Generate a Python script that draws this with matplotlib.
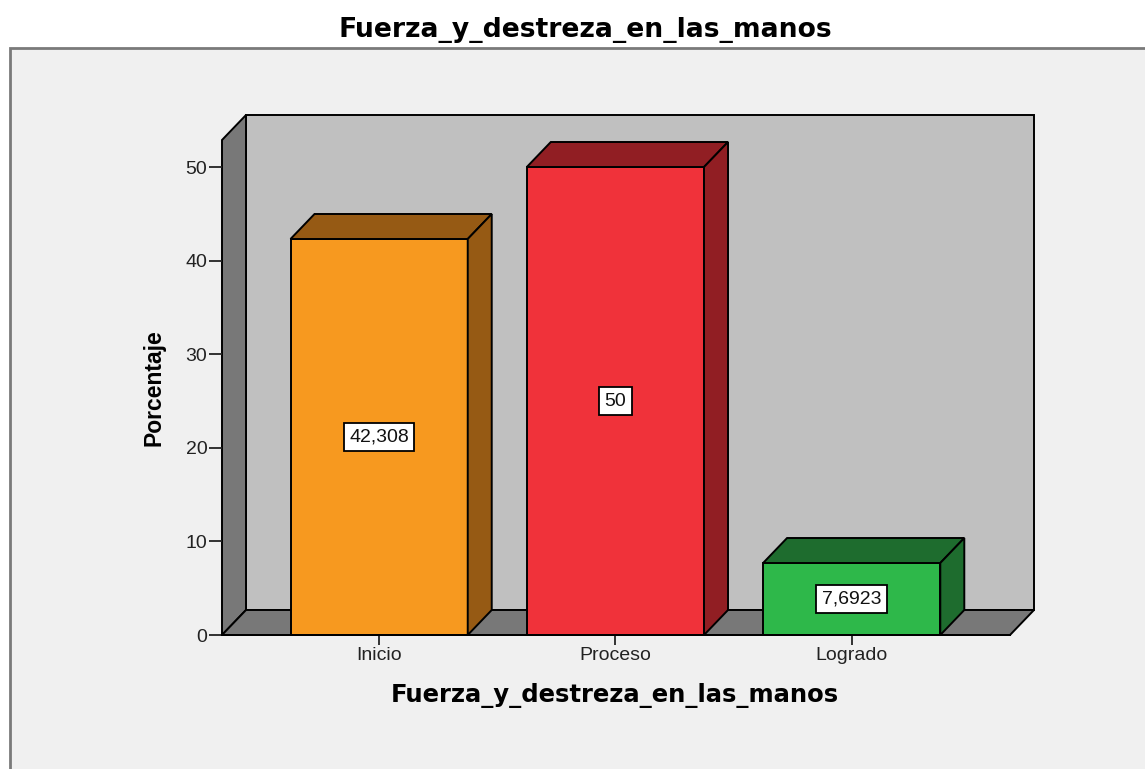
import matplotlib
matplotlib.use("Agg")
import matplotlib.pyplot as plt
from matplotlib.patches import Polygon, Rectangle

# ---- data ----
categories = ["Inicio", "Proceso", "Logrado"]
values = [42.308, 50.0, 7.6923]
value_labels = ["42,308", "50", "7,6923"]
y_ticks = [0, 10, 20, 30, 40, 50]
title = "Fuerza_y_destreza_en_las_manos"
xlabel = "Fuerza_y_destreza_en_las_manos"
ylabel = "Porcentaje"

front_colors = ["#F7991F", "#F0323A", "#2EB84A"]
dark_colors = ["#965A14", "#911E23", "#1E6C2E"]

W, H = 1145, 769
fig = plt.figure(figsize=(W / 100, H / 100), dpi=100, facecolor="white")

# outer frame (SPSS chart area)
fig.patches.append(Rectangle((10 / W, -0.05), 1.1, 1 - 48 / H + 0.05,
                             transform=fig.transFigure, facecolor="#F0F0F0",
                             edgecolor="#7A7A7A", linewidth=2, zorder=-10))

# axes covering the front plane
left_px, right_px, bottom_px, top_px = 222, 1010, 635, 115
ax = fig.add_axes([left_px / W, 1 - bottom_px / H,
                   (right_px - left_px) / W, (bottom_px - top_px) / H])
ax.set_zorder(5)
ax.set_facecolor("none")
x0, x1 = -0.665, 2.67
px_per_unit_y = 9.36
ymax = (bottom_px - top_px) / px_per_unit_y
ax.set_xlim(x0, x1)
ax.set_ylim(0, ymax)
px_per_unit_x = (right_px - left_px) / (x1 - x0)
dx = 24 / px_per_unit_x
dy = 25 / px_per_unit_y
wall_top = ymax - dy

for s in ax.spines.values():
    s.set_visible(False)

lw = 1.4
# back wall
ax.add_patch(Polygon([(x0 + dx, dy), (x1 + dx, dy), (x1 + dx, ymax), (x0 + dx, ymax)],
                     closed=True, facecolor="#C0C0C0", edgecolor="black", lw=lw,
                     zorder=1, clip_on=False))
# left wall
ax.add_patch(Polygon([(x0, 0), (x0 + dx, dy), (x0 + dx, ymax), (x0, wall_top)],
                     closed=True, facecolor="#787878", edgecolor="black", lw=lw,
                     zorder=1, clip_on=False))
# floor
ax.add_patch(Polygon([(x0, 0), (x1, 0), (x1 + dx, dy), (x0 + dx, dy)],
                     closed=True, facecolor="#787878", edgecolor="black", lw=lw,
                     zorder=1, clip_on=False))

bw = 0.75
xs = list(range(len(categories)))
bars = ax.bar(xs, values, width=bw, color=front_colors, edgecolor="black",
              linewidth=lw, zorder=3, clip_on=False)
for x, v, dc, lab in zip(xs, values, dark_colors, value_labels):
    l, r = x - bw / 2, x + bw / 2
    ax.add_patch(Polygon([(l, v), (r, v), (r + dx, v + dy), (l + dx, v + dy)],
                         closed=True, facecolor=dc, edgecolor="black", lw=lw,
                         zorder=3, clip_on=False))
    ax.add_patch(Polygon([(r, 0), (r + dx, dy), (r + dx, v + dy), (r, v)],
                         closed=True, facecolor=dc, edgecolor="black", lw=lw,
                         zorder=3, clip_on=False))
    ax.text(x, v / 2, lab, ha="center", va="center", fontsize=14,
            family="Liberation Sans", color="#111111", zorder=5,
            bbox=dict(boxstyle="square,pad=0.28", facecolor="white",
                      edgecolor="black", linewidth=1.3))

# front axis lines
ax.plot([x0, x1], [0, 0], color="black", lw=lw, zorder=4, clip_on=False)

ax.set_yticks(y_ticks)
ax.set_yticklabels([str(t) for t in y_ticks], family="Liberation Sans",
                   fontsize=14, color="#222222")
ax.tick_params(axis="y", length=9.5, width=1.3, pad=1, color="#222222")
ax.set_xticks(xs)
ax.set_xticklabels(categories, family="Liberation Sans", fontsize=14,
                   color="#222222")
ax.tick_params(axis="x", length=7, width=1.3, pad=2, color="#222222")

fig.text(585 / W, 1 - 37 / H, title, ha="center", va="baseline",
         fontsize=19.2, fontweight="bold", family="DejaVu Sans", color="black")
fig.text(615 / W, 1 - 702 / H, xlabel, ha="center", va="baseline",
         fontsize=17.5, fontweight="bold", family="DejaVu Sans", color="black")
fig.text(154 / W, 1 - 388 / H, ylabel, ha="center", va="center",
         rotation=90, fontsize=16.5, fontweight="bold",
         family="Liberation Sans", color="black")

fig.savefig("out.png", dpi=100, facecolor="white")
